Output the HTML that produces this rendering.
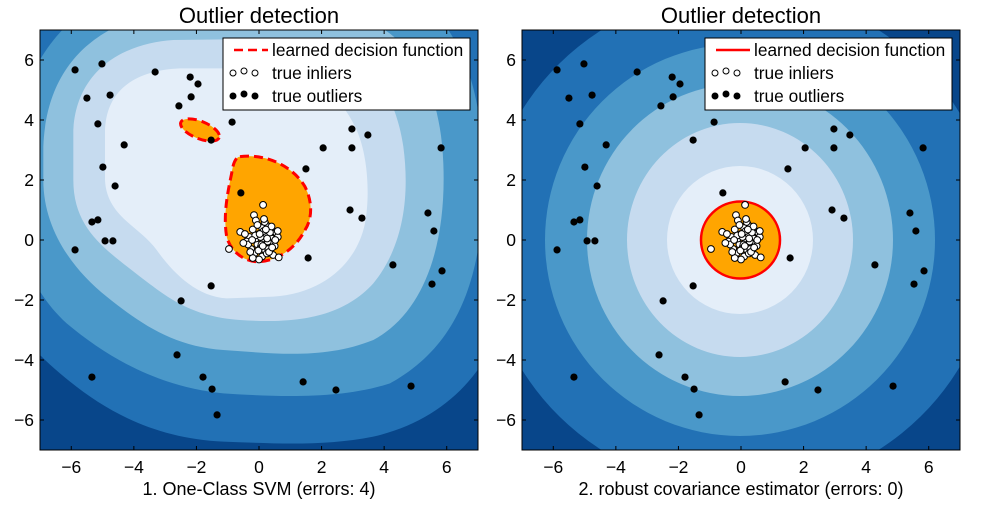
<!DOCTYPE html>
<html><head><meta charset="utf-8">
<style>
body{margin:0;background:#fff;width:1000px;height:500px;overflow:hidden;font-family:"Liberation Sans",sans-serif}
svg text{font-family:"Liberation Sans",sans-serif}
</style></head>
<body>
<svg id="chart" width="1000" height="500" xmlns="http://www.w3.org/2000/svg">
<defs>
<clipPath id="clipL"><rect x="40" y="30" width="438" height="420"/></clipPath>
<clipPath id="clipR"><rect x="522" y="30" width="438" height="420"/></clipPath>
</defs>
<g id="left">
 <g clip-path="url(#clipL)">
  <rect x="40" y="30" width="438" height="420" fill="#08468a"/>
  <g transform="translate(40,30) scale(0.33333)">
   <path fill="#2271b5" d="M -200,400 C -200,-150 200,-300 500,-300 L 900,-300 C 1300,-300 1450,0 1450,500 C 1450,900 1300,1150 1000,1220 C 850,1250 700,1240 550,1235 C 350,1225 200,1150 60,1030 C -100,900 -200,700 -200,500 Z"/>
   <path fill="#4a98c9" d="M -80,400 C -70,0 200,-150 450,-170 L 900,-170 C 1250,-150 1330,150 1330,450 C 1330,750 1250,950 1050,1060 C 900,1110 700,1100 550,1090 C 350,1070 200,980 80,880 C -20,790 -80,650 -80,500 Z"/>
   <path fill="#8fc1de" d="M 10,350 C 20,80 200,-40 420,-60 L 850,-60 C 1100,-40 1200,150 1210,400 C 1220,650 1150,850 1000,930 C 850,990 700,970 550,960 C 400,950 300,880 200,800 C 100,720 10,600 10,450 Z"/>
   <path fill="#c6dbef" d="M100,300 C 110,120 250,40 400,30 L 800,25 C 950,40 1060,150 1090,350 C 1110,500 1090,650 1000,760 C 900,870 750,880 600,870 C 450,860 380,800 300,740 C 200,660 100,600 100,450 Z"/>
   <path fill="#e4eef9" d="M 195,300 C 200,170 300,120 420,115 L 700,115 C 820,130 900,190 950,300 C 985,380 990,500 975,580 C 950,700 850,790 700,800 L 560,805 C 470,800 400,730 350,660 C 300,590 200,560 195,450 Z"/>
   <path fill="#ffa500" stroke="#f00" stroke-width="9" stroke-dasharray="27,15" d="M600,380 C680,370 760,410 795,470 C820,520 815,570 795,600 C770,650 720,690 660,695 C610,698 570,660 560,620 C550,560 560,500 575,430 C580,395 588,382 600,380 Z"/>
   <ellipse cx="480" cy="300" rx="62" ry="26" transform="rotate(22 480 300)" fill="#ffa500" stroke="#f00" stroke-width="9" stroke-dasharray="27,15"/>
  </g>
  <g id="ptsL"></g>
 </g>
</g>
<g id="right">
 <g clip-path="url(#clipR)" id="contR">
  <rect x="522" y="30" width="438" height="420" fill="#08468a"/>
  <ellipse cx="740" cy="240" rx="255" ry="250" fill="#2271b5"/>
  <ellipse cx="740" cy="240" rx="195" ry="196" fill="#4a98c9"/>
  <ellipse cx="740" cy="240" rx="153" ry="156" fill="#8fc1de"/>
  <ellipse cx="740" cy="240" rx="113" ry="117" fill="#c6dbef"/>
  <ellipse cx="740" cy="240" rx="73" ry="74" fill="#e4eef9"/>
  <ellipse cx="740.5" cy="240" rx="39.5" ry="38.5" fill="#ffa500" stroke="#f00" stroke-width="2.5"/>
  <g id="ptsR"></g>
 </g>
</g>
<g id="frames"></g>
</svg>
<script>
const outX=[-5.88,-5.02,-5.5,-4.76,-5.15,-4.31,-4.99,-4.6,-5.34,-5.15,-4.92,-4.67,-5.88,-3.32,-2.2,-1.95,-2.17,-2.56,-0.86,-1.53,-0.58,1.5,2.05,2.97,2.97,3.48,5.82,2.91,3.29,5.4,5.59,5.85,5.53,4.28,1.57,-1.53,-2.49,-2.62,-5.34,-1.79,-1.5,-1.34,1.41,2.46,4.86];
const outY=[5.67,5.87,4.73,4.83,3.87,3.17,2.43,1.8,0.6,0.67,-0.03,-0.03,-0.33,5.6,5.43,5.2,4.77,4.47,3.93,3.33,1.57,2.37,3.07,3.7,3.07,3.5,3.07,1.0,0.73,0.9,0.3,-1.03,-1.47,-0.83,-0.6,-1.53,-2.03,-3.83,-4.57,-4.57,-4.97,-5.83,-4.73,-5.0,-4.87];
const inX=[0.13,-0.16,-0.96,-0.6,-0.1,0.2,0.3,0.45,0.55,-0.3,-0.2,0.0,0.1,0.25,0.4,-0.4,-0.05,0.15,0.35,0.6,-0.25,0.05,0.2,-0.15,0.3,0.5,-0.35,-0.1,0.1,0.25,0.45,0.0,-0.2,0.15,0.35,-0.05,0.05,0.28,0.63,-0.45,0.18,-0.28,0.4,0.08,-0.12,0.22,0.52,-0.02,0.12,0.32,-0.22,0.02,0.42,0.6,-0.5,0.16,0.26];
const inY=[1.17,0.83,-0.3,0.27,0.65,0.55,0.45,0.3,0.25,0.1,0.35,0.2,0.4,0.15,0.05,-0.05,-0.15,0.0,-0.1,0.1,-0.3,-0.25,-0.35,-0.45,-0.3,-0.2,-0.15,0.05,-0.55,-0.45,-0.5,-0.65,-0.6,0.3,0.25,0.5,0.1,-0.05,-0.58,0.2,0.6,-0.4,0.45,-0.15,0.15,0.35,0.0,-0.35,-0.2,-0.4,0.0,0.2,-0.25,0.3,-0.1,0.7,0.05];
const ticks=[-6,-4,-2,0,2,4,6];
const titles=["Outlier detection","Outlier detection"];
const xlabels=["1. One-Class SVM (errors: 4)","2. robust covariance estimator (errors: 0)"];
const NS="http://www.w3.org/2000/svg";
function mk(t,a,p){const e=document.createElementNS(NS,t);for(const k in a)e.setAttribute(k,a[k]);p.appendChild(e);return e;}
const panels=[{x0:40,g:'ptsL',dash:true},{x0:522,g:'ptsR',dash:false}];
const fr=document.getElementById('frames');
panels.forEach((P,pi)=>{
 const sx=v=>P.x0+(v+7)*438/14, sy=v=>30+(7-v)*30;
 const g=document.getElementById(P.g);
 inX.forEach((v,i)=>{const c=mk('circle',{cx:sx(v),cy:sy(inY[i]),r:3.4,fill:'#fff',stroke:'#000','stroke-width':1},g);
  
  });
 outX.forEach((v,i)=>{const c=mk('circle',{cx:sx(v),cy:sy(outY[i]),r:3.6,fill:'#000'},g);
  
  });
 const f=mk('rect',{x:P.x0,y:30,width:438,height:420,fill:'none',stroke:'#000','stroke-width':1},fr);
 
 
 ticks.forEach(t=>{
  const X=sx(t),Y=sy(t);
  mk('line',{x1:X,y1:30,x2:X,y2:34,stroke:'#000'},fr);mk('line',{x1:X,y1:450,x2:X,y2:446,stroke:'#000'},fr);
  mk('line',{x1:P.x0,y1:Y,x2:P.x0+4,y2:Y,stroke:'#000'},fr);mk('line',{x1:P.x0+438,y1:Y,x2:P.x0+434,y2:Y,stroke:'#000'},fr);
  const lx=mk('text',{x:X,y:473,'text-anchor':'middle','font-size':17.5},fr);lx.textContent=(t<0?'\u2212':'')+Math.abs(t);
  
  
  const ly=mk('text',{x:P.x0-6,y:Y+6,'text-anchor':'end','font-size':17.5},fr);ly.textContent=(t<0?'\u2212':'')+Math.abs(t);
  
  
 });
 const tt=mk('text',{x:P.x0+219,y:23,'text-anchor':'middle','font-size':22},fr);tt.textContent=titles[pi];
 
 
 const xl=mk('text',{x:P.x0+219,y:495,'text-anchor':'middle','font-size':18},fr);xl.textContent=xlabels[pi];
 
 
 const lg=mk('g',{},fr);
 
 
 const L=P.x0+183;
 mk('rect',{x:L,y:38,width:247,height:72,fill:'#fff',stroke:'#000','stroke-width':1},lg);
 const ln=mk('line',{x1:L+11,y1:50,x2:L+45,y2:50,stroke:'#f00','stroke-width':2.5},lg);
 if(P.dash){ln.setAttribute('stroke-dasharray','9,5');}
 [[L+10,73,'#fff'],[L+21,71,'#fff'],[L+32,73,'#fff'],[L+10,96,'#000'],[L+21,94,'#000'],[L+32,96,'#000']].forEach(d=>mk('circle',{cx:d[0],cy:d[1],r:3,fill:d[2],stroke:'#000'},lg));
 ['learned decision function','true inliers','true outliers'].forEach((s,i)=>{const t=mk('text',{x:L+49,y:56+i*23,'font-size':17.3},lg);t.textContent=s;
  
  });
});
</script>
</body></html>
